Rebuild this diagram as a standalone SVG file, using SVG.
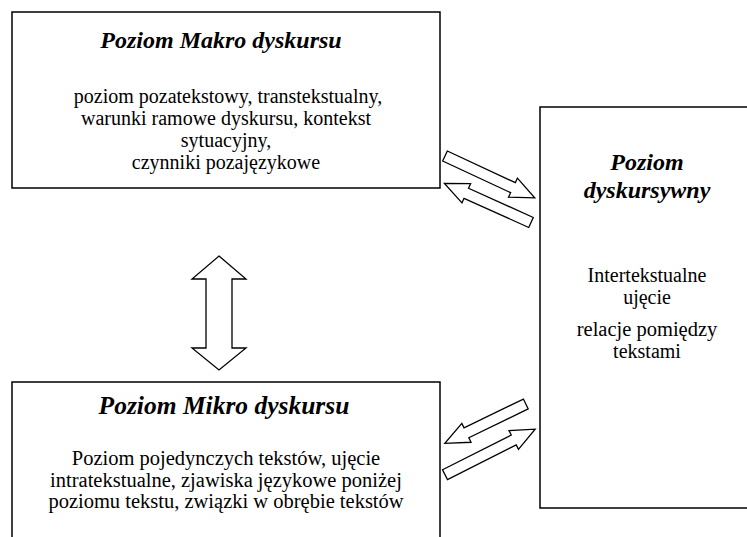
<svg xmlns="http://www.w3.org/2000/svg" width="747" height="537" viewBox="0 0 747 537">
  <style>
    .box { fill: #fff; stroke: #000; stroke-width: 1.5; }
    .arrow { fill: #fff; stroke: #000; stroke-width: 1.3; stroke-linejoin: miter; }
    .title { font-family: "Liberation Serif", "Times New Roman", serif; font-size: 24px; font-weight: bold; font-style: italic; fill: #000; text-anchor: middle; }
    .body { font-family: "Liberation Serif", "Times New Roman", serif; font-size: 20px; fill: #000; text-anchor: middle; }
    .big { font-size: 20.5px; }
    .bigtitle { font-size: 25.5px; }
  </style>
  <rect width="747" height="537" fill="#fff"/>

  <g id="node-makro">
    <rect class="box" x="12" y="12" width="428" height="176"/>
    <text class="title" x="221" y="48">Poziom Makro dyskursu</text>
    <text class="body" x="228" y="103">poziom pozatekstowy, transtekstualny,</text>
    <text class="body" x="226" y="125">warunki ramowe dyskursu, kontekst</text>
    <text class="body" x="226" y="147">sytuacyjny,</text>
    <text class="body" x="226" y="169">czynniki pozajęzykowe</text>
  </g>

  <g id="node-dyskursywny">
    <rect class="box" x="540" y="107" width="215" height="401"/>
    <text class="title" x="647" y="170">Poziom</text>
    <text class="title" x="647" y="198">dyskursywny</text>
    <text class="body" x="647" y="282">Intertekstualne</text>
    <text class="body" x="647" y="304">ujęcie</text>
    <text class="body big" x="647" y="336">relacje pomiędzy</text>
    <text class="body" x="647" y="358">tekstami</text>
  </g>

  <g id="node-mikro">
    <rect class="box" x="12" y="382" width="428" height="170"/>
    <text class="title bigtitle" x="224" y="414">Poziom Mikro dyskursu</text>
    <text class="body big" x="226" y="465">Poziom pojedynczych tekstów, ujęcie</text>
    <text class="body big" x="226" y="486.5">intratekstualne, zjawiska językowe poniżej</text>
    <text class="body big" x="226" y="508">poziomu tekstu, związki w obrębie tekstów</text>
  </g>

  <g id="connectors">
    <polygon class="arrow" points="219,256 246,279 232,279 232,348 246,348 219,370 192,348 206,348 206,279 192,279"/>
    <g transform="translate(445,156) rotate(25)">
      <polygon class="arrow" points="0,-5.5 75,-5.5 75,-10.5 99,0 75,10.5 75,5.5 0,5.5"/>
    </g>
    <g transform="translate(531,222.5) rotate(204.3)">
      <polygon class="arrow" points="0,-5.5 71,-5.5 71,-10.5 95,0 71,10.5 71,5.5 0,5.5"/>
    </g>
    <g transform="translate(525.8,404) rotate(154.1)">
      <polygon class="arrow" points="0,-5.5 66,-5.5 66,-10.5 90,0 66,10.5 66,5.5 0,5.5"/>
    </g>
    <g transform="translate(445,474.7) rotate(-26.8)">
      <polygon class="arrow" points="0,-5.5 77,-5.5 77,-10.5 101,0 77,10.5 77,5.5 0,5.5"/>
    </g>
  </g>
</svg>
